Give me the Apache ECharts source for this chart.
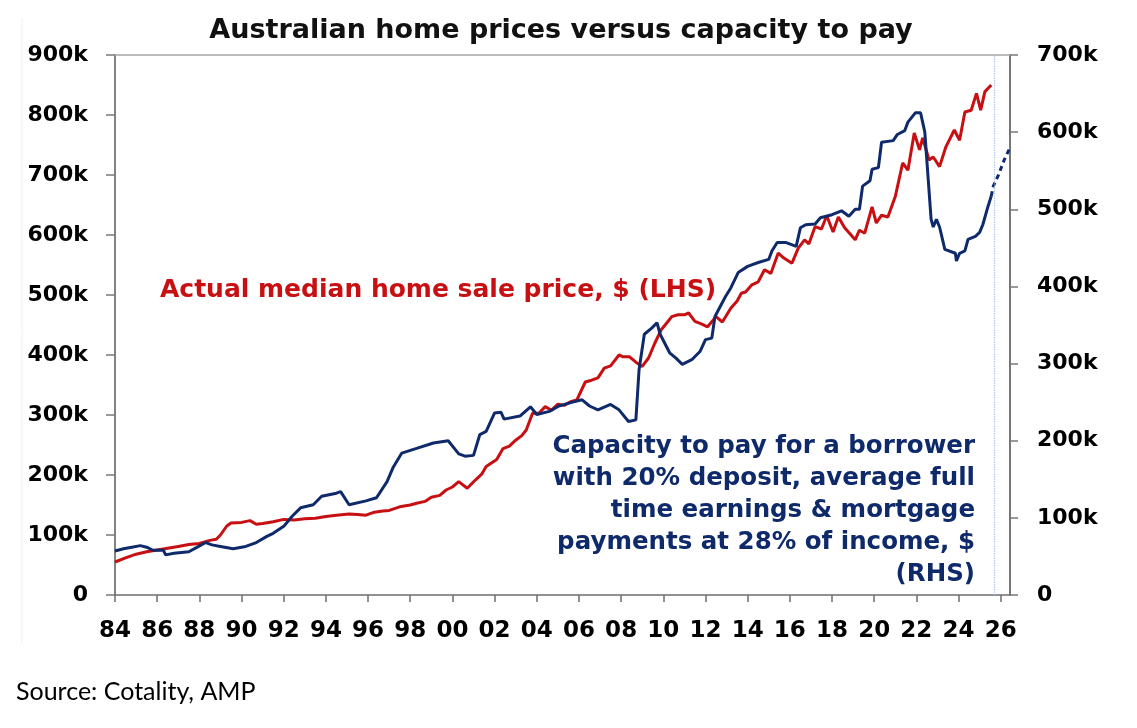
<!DOCTYPE html>
<html>
<head>
<meta charset="utf-8">
<script src="https://cdn.jsdelivr.net/npm/echarts@6/dist/echarts.min.js"></script>
<style>
html,body{margin:0;padding:0;background:#fff;}
#chart{width:1137px;height:728px;}
</style>
</head>
<body>
<div id="chart"></div>
<script>
// Actual median home sale price ($k, LHS)
var priceX = [1984.0,1984.5,1985.0,1985.5,1986.0,1986.5,1987.0,1987.5,1988.0,1988.5,1988.8,1989.0,1989.3,1989.5,1990.0,1990.4,1990.7,1991.0,1991.5,1992.0,1992.5,1993.0,1993.5,1994.0,1994.5,1995.1,1995.5,1995.9,1996.3,1996.7,1997.0,1997.5,1998.0,1998.3,1998.7,1999.0,1999.4,1999.7,2000.0,2000.3,2000.7,2001.1,2001.4,2001.6,2002.1,2002.4,2002.7,2003.0,2003.3,2003.5,2003.8,2004.1,2004.4,2004.7,2005.0,2005.3,2005.6,2005.9,2006.1,2006.3,2006.6,2006.9,2007.2,2007.5,2007.9,2008.1,2008.4,2008.7,2009.0,2009.3,2009.6,2009.9,2010.2,2010.4,2010.7,2011.0,2011.2,2011.5,2011.8,2012.1,2012.5,2012.8,2013.2,2013.5,2013.7,2013.9,2014.2,2014.5,2014.8,2015.1,2015.45,2015.7,2016.1,2016.4,2016.7,2016.9,2017.2,2017.5,2017.75,2018.05,2018.3,2018.6,2019.1,2019.3,2019.55,2019.9,2020.1,2020.35,2020.65,2021.0,2021.35,2021.6,2021.9,2022.15,2022.3,2022.6,2022.8,2023.1,2023.4,2023.8,2024.05,2024.3,2024.6,2024.85,2025.05,2025.25,2025.55];
var priceK = [55,62,68,72,75,78,81,84,86,91,93,100,115,120,121,124,118,119,122,126,125,127,128,131,133,135,134,133,138,140,141,147,150,153,156,163,166,175,180,189,178,192,202,214,226,244,248,258,266,275,303,303,314,308,318,316,322,325,340,355,358,362,378,382,400,397,397,388,381,395,420,442,455,464,467,467,470,456,452,447,464,455,478,490,503,505,517,522,542,536,570,562,553,578,592,585,614,610,632,605,630,612,592,608,603,647,620,633,630,664,720,708,770,742,762,725,730,714,747,775,758,805,808,836,808,839,850];

// Capacity to pay ($k, RHS)
var capacityX = [1984.0,1984.4,1984.8,1985.2,1985.5,1985.8,1986.3,1986.4,1986.8,1987.5,1987.9,1988.3,1988.6,1989.0,1989.6,1990.2,1990.7,1991.2,1991.5,1992.0,1992.4,1992.8,1993.4,1993.8,1994.5,1994.7,1995.1,1995.9,1996.4,1996.9,1997.2,1997.6,1998.3,1999.1,1999.8,2000.3,2000.6,2001.0,2001.3,2001.6,2002.0,2002.3,2002.45,2003.2,2003.7,2004.0,2004.6,2005.05,2005.7,2006.15,2006.5,2006.9,2007.5,2007.9,2008.35,2008.7,2008.85,2009.1,2009.45,2009.7,2009.85,2010.3,2010.6,2010.9,2011.35,2011.75,2012.0,2012.3,2012.45,2012.95,2013.2,2013.55,2014.0,2014.5,2015.0,2015.15,2015.4,2015.8,2016.3,2016.5,2016.75,2017.2,2017.45,2018.0,2018.45,2018.8,2019.1,2019.3,2019.45,2019.8,2019.9,2020.2,2020.35,2020.9,2021.1,2021.45,2021.6,2021.95,2022.2,2022.4,2022.7,2022.8,2022.95,2023.1,2023.35,2023.85,2023.9,2024.05,2024.3,2024.45,2024.8,2025.0,2025.15,2025.4,2025.55];
var capacityK = [57,60,62,64,62,58,58,52,54,56,62,68,65,63,60,63,68,76,80,89,102,113,117,128,132,134,117,122,126,147,166,184,190,197,200,183,180,181,208,212,236,237,228,232,244,234,238,245,250,253,245,240,247,240,225,227,292,338,346,353,338,314,307,299,305,316,331,333,361,387,398,418,426,431,435,446,457,457,452,476,480,481,489,493,498,491,500,500,530,537,552,554,587,589,597,602,613,625,625,600,487,477,487,477,448,443,433,443,446,461,465,470,480,504,517];

// Capacity to pay, projection (dashed)
var projX = [2025.55,2025.65,2025.9,2026.15,2026.44];
var projK = [517,530,545,563,580];

var yearTicks = [1984,1986,1988,1990,1992,1994,1996,1998,2000,2002,2004,2006,2008,2010,2012,2014,2016,2018,2020,2022,2024,2026];

function pairs(xs, ks) { return xs.map(function (x, i) { return [x, ks[i] * 1000]; }); }

var RED = '#c80f12';
var NAVY = '#0f2a6b';
var tickFont = 'DejaVu Sans';

var chart = echarts.init(document.getElementById('chart'), null, {renderer: 'canvas'});
chart.setOption({
  animation: false,
  backgroundColor: '#ffffff',
  grid: {left: 115, right: 127, top: 55, bottom: 133, containLabel: false},
  xAxis: [{
    type: 'value', min: 1984, max: 2026.44, position: 'bottom',
    axisLine: {show: true, lineStyle: {color: '#6e6e6e', width: 1.5}},
    axisTick: {show: true, length: 7, customValues: yearTicks, lineStyle: {color: '#6e6e6e', width: 1.5}},
    axisLabel: {customValues: yearTicks, margin: 25, color: '#000', fontFamily: tickFont, fontWeight: 'bold', fontSize: 23,
      formatter: function (v) { var s = String(Math.round(v) % 100); return s.length < 2 ? '0' + s : s; }},
    splitLine: {show: false}
  }, {
    type: 'value', min: 1984, max: 2026.44, position: 'top',
    axisLine: {show: true, onZero: false, lineStyle: {color: '#a6a6a6', width: 1.5}},
    axisTick: {show: false}, axisLabel: {show: false}, splitLine: {show: false}
  }],
  yAxis: [{
    type: 'value', min: 0, max: 900000, interval: 100000, position: 'left',
    axisLine: {show: true, lineStyle: {color: '#5a5a5a', width: 1.5}},
    axisTick: {show: true, length: 9, lineStyle: {color: '#7a7a7a', width: 1.5}},
    axisLabel: {margin: 27, color: '#000', fontFamily: tickFont, fontWeight: 'bold', fontSize: 22,
      formatter: function (v) { return v === 0 ? '0' : (v / 1000) + 'k'; }},
    splitLine: {show: false}
  }, {
    type: 'value', min: 0, max: 700000, interval: 100000, position: 'right',
    axisLine: {show: true, lineStyle: {color: '#4a4a4a', width: 1.5}},
    axisTick: {show: true, length: 8, lineStyle: {color: '#7a7a7a', width: 1.5}},
    axisLabel: {margin: 27, color: '#000', fontFamily: tickFont, fontWeight: 'bold', fontSize: 22,
      formatter: function (v) { return v === 0 ? '0' : (v / 1000) + 'k'; }},
    splitLine: {show: false}
  }],
  series: [{
    name: 'Actual median home sale price', type: 'line', xAxisIndex: 0, yAxisIndex: 0,
    data: pairs(priceX, priceK), showSymbol: false, symbol: 'none',
    lineStyle: {color: RED, width: 3}, z: 2
  }, {
    name: 'Capacity to pay', type: 'line', xAxisIndex: 0, yAxisIndex: 1,
    data: pairs(capacityX, capacityK), showSymbol: false, symbol: 'none',
    lineStyle: {color: NAVY, width: 3}, z: 3
  }, {
    name: 'Capacity to pay (projection)', type: 'line', xAxisIndex: 0, yAxisIndex: 1,
    data: pairs(projX, projK), showSymbol: false, symbol: 'none',
    lineStyle: {color: NAVY, width: 3, type: [5, 4]}, z: 3,
    markLine: {silent: true, symbol: 'none', label: {show: false},
      lineStyle: {color: '#9fbde8', type: 'dotted', width: 1.2},
      data: [{xAxis: 2025.68}]}
  }],
  graphic: [
    {type: 'line', shape: {x1: 22, y1: 18, x2: 22, y2: 643}, style: {stroke: '#f0f0f0', lineWidth: 1}, silent: true},
    {type: 'text', x: 561, y: 31, style: {text: 'Australian home prices versus capacity to pay', fill: '#111',
      font: 'bold 27px "DejaVu Sans"', align: 'center', verticalAlign: 'middle'}},
    {type: 'text', x: 160, y: 290, style: {text: 'Actual median home sale price, $ (LHS)', fill: RED,
      font: 'bold 25px "DejaVu Sans"', align: 'left', verticalAlign: 'middle'}},
    {type: 'text', x: 975, y: 511, style: {text: 'Capacity to pay for a borrower\nwith 20% deposit, average full\ntime earnings & mortgage\npayments at 28% of income, $\n(RHS)',
      fill: NAVY, font: 'bold 24.5px "DejaVu Sans"', lineHeight: 32, align: 'right', verticalAlign: 'middle'}},
    {type: 'text', x: 16, y: 692, style: {text: 'Source: Cotality, AMP', fill: '#000',
      font: '25px Lato', align: 'left', verticalAlign: 'middle'}}
  ]
});
</script>
</body>
</html>
